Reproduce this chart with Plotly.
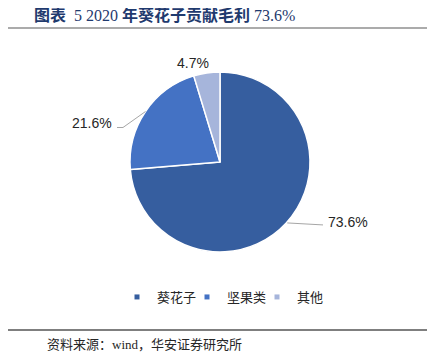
import math
import plotly.graph_objects as go

categories = ["葵花子", "坚果类", "其他"]
values = [73.6, 21.6, 4.7]
label_texts = ["73.6%", "21.6%", "4.7%"]
colors = ["#365E9F", "#4472C4", "#A6B5DB"]

W, H = 435, 361
OFF = 8  # page body margin
CX, CY, R = 220, 162, 90  # pie centre / radius in px (page)

def px(x, y):
    return (x - OFF) / W, 1 - (y - OFF) / H

fig = go.Figure()
dx0, dy1 = px(CX - R, CY - R)
dx1, dy0 = px(CX + R, CY + R)
fig.add_trace(go.Pie(
    labels=categories, values=values, sort=False, direction="clockwise",
    rotation=0, textinfo="none", hoverinfo="label+percent",
    marker=dict(colors=colors, line=dict(color="white", width=1.5)),
    domain=dict(x=[dx0, dx1], y=[dy0, dy1]),
    showlegend=False,
))

# legend via dummy square markers
for c, col in zip(categories, colors):
    fig.add_trace(go.Scatter(x=[None], y=[None], mode="markers", name=c,
                             marker=dict(symbol="square", size=5, color=col)))

# labels and leader lines computed from slice angles
total = sum(values)
cum = 0
annotations = []
paths = []
for v, t in zip(values, label_texts):
    mid = (cum + v / 2) / total * 2 * math.pi
    cum += v
    dx, dy = math.sin(mid), -math.cos(mid)
    ex, ey = CX + R * dx, CY + R * dy
    if dx > 0.3:  # right side label
        lx, ly = CX + 103, ey + 2
        paths.append([(ex + 1, ey), (lx, ly)])
        annotations.append((t, lx + 3, ly - 3, "left"))
    elif dx < -0.3:  # left side label
        lx, ly = CX - 103, ey + 16
        paths.append([(ex, ey), (lx + 6, ly), (lx, ly)])
        annotations.append((t, lx - 3, ly - 4, "right"))
    else:  # top
        annotations.append((t, ex - 14, ey - 10, "center"))

for coords in paths:
    pp = [px(x, y) for x, y in coords]
    path = "M" + " L".join(f"{a},{b}" for a, b in pp)
    fig.add_shape(type="path", path=path, xref="paper", yref="paper",
                  line=dict(color="#A6A6A6", width=1))

for t, x, y, anchor in annotations:
    ax, ay = px(x, y)
    fig.add_annotation(text=t, x=ax, y=ay, xref="paper", yref="paper",
                       xanchor=anchor, yanchor="middle", showarrow=False,
                       font=dict(family="Liberation Sans, Arial", size=14, color="#262626"))

# title, rules, footer
tx, ty = px(32, 15)
fig.add_annotation(text="<b>图表</b>  5 2020 <b>年葵花子贡献毛利</b> 73.6%", x=tx, y=ty,
                   xref="paper", yref="paper", xanchor="left", yanchor="middle",
                   showarrow=False,
                   font=dict(family="Liberation Serif, Noto Sans CJK SC", size=16, color="#1F3A6E"))
for yline, col in [(28, "#595959"), (330, "#000000")]:
    a = px(0, yline); b = px(430, yline)
    fig.add_shape(type="line", x0=a[0], y0=a[1], x1=b[0], y1=b[1],
                  xref="paper", yref="paper", line=dict(color=col, width=1.2))
fx, fy = px(45, 344)
fig.add_annotation(text="资料来源：wind，华安证券研究所", x=fx, y=fy, xref="paper", yref="paper",
                   xanchor="left", yanchor="middle", showarrow=False,
                   font=dict(family="Liberation Serif, Noto Sans CJK SC", size=13, color="#262626"))

lx, ly = px(222, 297)
fig.update_layout(
    width=W, height=H, margin=dict(l=0, r=0, t=0, b=0),
    paper_bgcolor="white", plot_bgcolor="white",
    xaxis=dict(visible=False), yaxis=dict(visible=False),
    legend=dict(orientation="h", x=lx, y=ly, xanchor="center", yanchor="middle",
                font=dict(family="Noto Sans CJK SC", size=13, color="#262626"),
                itemwidth=30, entrywidth=25, entrywidthmode="pixels", tracegroupgap=0),
)
fig.write_html("out.html")
